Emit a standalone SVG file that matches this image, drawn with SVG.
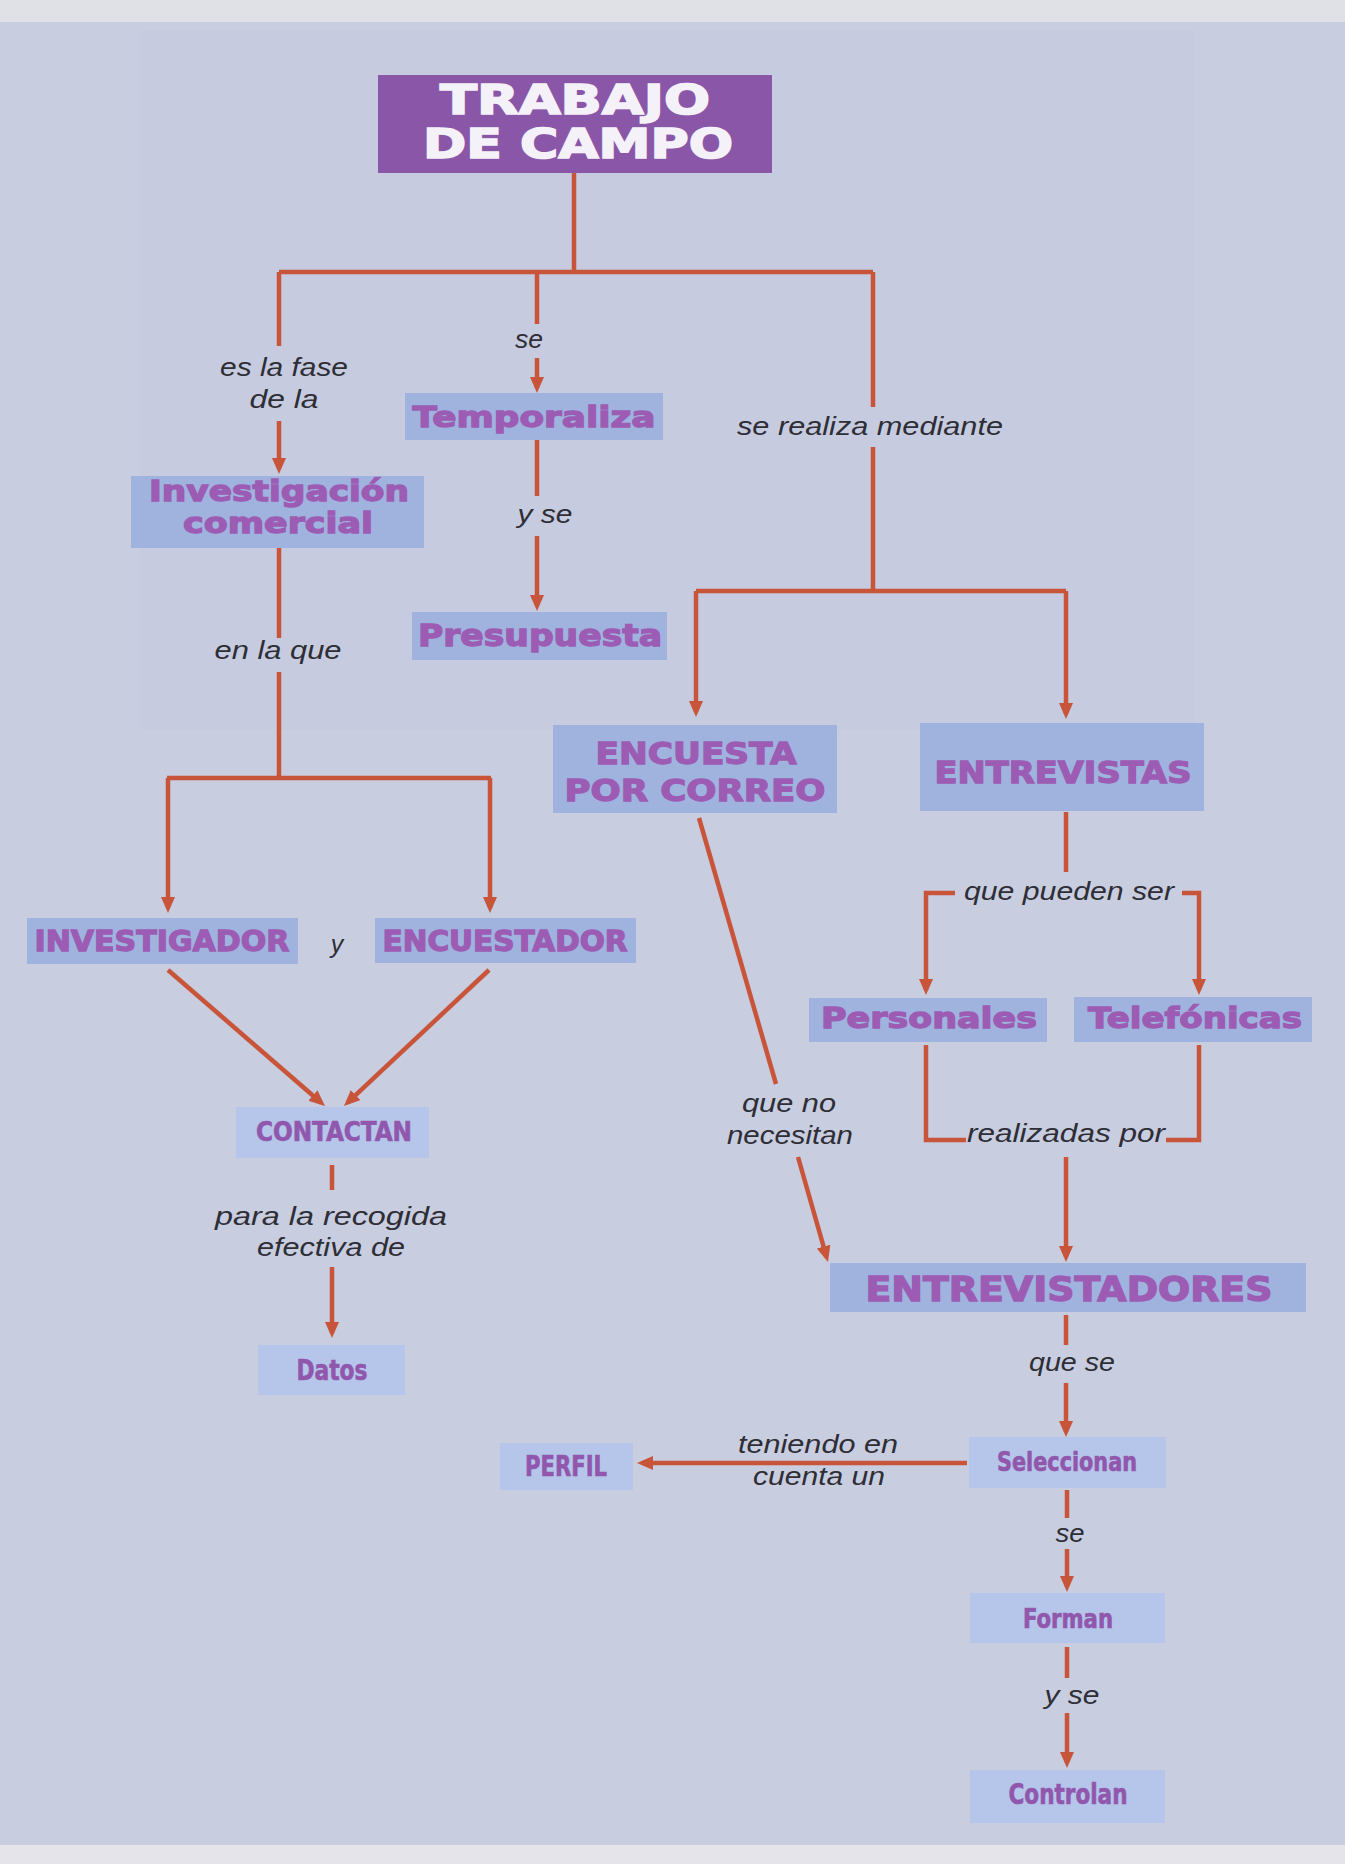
<svg xmlns="http://www.w3.org/2000/svg" width="1345" height="1864" viewBox="0 0 1345 1864">
  <style>
    .box { fill: #9fb3de; }
    .soft { fill: #b6c6ea; }
    .title { fill: #8a56a8; }
    .bt { font-family: "DejaVu Sans", "Liberation Sans", sans-serif; font-weight: bold; fill: #9c5cb4; stroke: #9c5cb4; stroke-width: 1.3; text-anchor: middle; }
    .ct { font-family: "DejaVu Sans Condensed", "DejaVu Sans", "Liberation Sans Narrow", sans-serif; font-weight: bold; fill: #9057ad; stroke: #9057ad; stroke-width: 0.6; text-anchor: middle; }
    .tt { font-family: "DejaVu Sans", "Liberation Sans", sans-serif; font-weight: bold; fill: #f4f2f8; stroke: #f4f2f8; stroke-width: 1.6; text-anchor: middle; }
    .lbl { font-family: "Liberation Sans", "DejaVu Sans", sans-serif; font-style: italic; fill: #2e2e36; font-size: 25px; text-anchor: middle; }
    .ln { fill: none; stroke: #c8553a; stroke-width: 4.5; stroke-linejoin: miter; }
    .ar { marker-end: url(#head); }
  </style>
  <defs>
    <marker id="head" markerUnits="userSpaceOnUse" markerWidth="16" markerHeight="14" viewBox="0 0 16 14" refX="11" refY="7" orient="auto">
      <path d="M0,0 L16,7 L0,14 Z" fill="#c8553a"/>
    </marker>
  </defs>

  <!-- page background -->
  <rect x="0" y="0" width="1345" height="1864" fill="#c8cde0"/>
  <rect x="0" y="0" width="1345" height="22" fill="#e0e0e7"/>
  <rect x="140" y="30" width="1055" height="700" fill="#c3c8dc" opacity="0.35"/>
  <rect x="0" y="1845" width="1345" height="19" fill="#e4e4ea"/>

  <!-- connectors -->
  <g id="connectors">
    <path class="ln" d="M574,173 V272"/>
    <path class="ln" d="M279,272 H873"/>
    <path class="ln" d="M279,272 V346"/>
    <path class="ln ar" d="M279,421 V469"/>
    <path class="ln" d="M537,272 V324"/>
    <path class="ln ar" d="M537,358 V388"/>
    <path class="ln" d="M873,272 V407"/>
    <path class="ln" d="M873,447 V591"/>
    <path class="ln" d="M696,591 H1066"/>
    <path class="ln ar" d="M696,591 V712"/>
    <path class="ln ar" d="M1066,591 V714"/>
    <path class="ln" d="M537,440 V496"/>
    <path class="ln ar" d="M537,536 V606"/>
    <path class="ln" d="M279,548 V638"/>
    <path class="ln" d="M279,672 V778"/>
    <path class="ln" d="M167,778 H491"/>
    <path class="ln ar" d="M168,778 V908"/>
    <path class="ln ar" d="M490,778 V908"/>
    <path class="ln ar" d="M168,970 L321.2,1102.7"/>
    <path class="ln ar" d="M489,970 L347.6,1102.6"/>
    <path class="ln" d="M332,1165 V1190"/>
    <path class="ln ar" d="M332,1267 V1333"/>
    <path class="ln" d="M699,818 L776,1084"/>
    <path class="ln ar" d="M798,1157 L826.6,1257.2"/>
    <path class="ln" d="M1066,812 V872"/>
    <path class="ln ar" d="M955,893 H926 V990"/>
    <path class="ln ar" d="M1182,893 H1199 V990"/>
    <path class="ln" d="M926,1045 V1140 H966"/>
    <path class="ln" d="M1199,1045 V1140 H1166"/>
    <path class="ln ar" d="M1066,1157 V1257"/>
    <path class="ln" d="M1066,1315 V1345"/>
    <path class="ln ar" d="M1066,1383 V1432"/>
    <path class="ln ar" d="M967,1463 H642"/>
    <path class="ln" d="M1067,1490 V1518"/>
    <path class="ln ar" d="M1067,1549 V1587"/>
    <path class="ln" d="M1067,1647 V1678"/>
    <path class="ln ar" d="M1067,1713 V1763"/>
  </g>

  <!-- connector labels -->
  <g id="labels">
    <text class="lbl" x="284" y="376" textLength="128" lengthAdjust="spacingAndGlyphs">es la fase</text>
    <text class="lbl" x="284" y="408" textLength="69" lengthAdjust="spacingAndGlyphs">de la</text>
    <text class="lbl" x="529" y="348" textLength="28" lengthAdjust="spacingAndGlyphs">se</text>
    <text class="lbl" x="870" y="435" textLength="266" lengthAdjust="spacingAndGlyphs">se realiza mediante</text>
    <text class="lbl" x="545" y="523" textLength="55" lengthAdjust="spacingAndGlyphs">y se</text>
    <text class="lbl" x="278" y="659" textLength="127" lengthAdjust="spacingAndGlyphs">en la que</text>
    <text class="lbl" x="337" y="953">y</text>
    <text class="lbl" x="331" y="1225" textLength="232" lengthAdjust="spacingAndGlyphs">para la recogida</text>
    <text class="lbl" x="331" y="1256" textLength="148" lengthAdjust="spacingAndGlyphs">efectiva de</text>
    <text class="lbl" x="789" y="1112" textLength="94" lengthAdjust="spacingAndGlyphs">que no</text>
    <text class="lbl" x="790" y="1144" textLength="126" lengthAdjust="spacingAndGlyphs">necesitan</text>
    <text class="lbl" x="1069" y="900" textLength="210" lengthAdjust="spacingAndGlyphs">que pueden ser</text>
    <text class="lbl" x="1066" y="1142" textLength="198" lengthAdjust="spacingAndGlyphs">realizadas por</text>
    <text class="lbl" x="1072" y="1371" textLength="86" lengthAdjust="spacingAndGlyphs">que se</text>
    <text class="lbl" x="818" y="1453" textLength="160" lengthAdjust="spacingAndGlyphs">teniendo en</text>
    <text class="lbl" x="819" y="1485" textLength="132" lengthAdjust="spacingAndGlyphs">cuenta un</text>
    <text class="lbl" x="1070" y="1542" textLength="29" lengthAdjust="spacingAndGlyphs">se</text>
    <text class="lbl" x="1072" y="1704" textLength="55" lengthAdjust="spacingAndGlyphs">y se</text>
  </g>

  <!-- nodes -->
  <g id="trabajo-de-campo">
    <rect class="title" x="378" y="75" width="394" height="98"/>
    <text class="tt" x="575" y="114" font-size="40" textLength="270" lengthAdjust="spacingAndGlyphs">TRABAJO</text>
    <text class="tt" x="578" y="158" font-size="40" textLength="310" lengthAdjust="spacingAndGlyphs">DE CAMPO</text>
  </g>
  <g id="investigacion-comercial">
    <rect class="box" x="131" y="476" width="293" height="72"/>
    <text class="bt" x="279" y="501" font-size="28" textLength="260" lengthAdjust="spacingAndGlyphs">Investigación</text>
    <text class="bt" x="278" y="533" font-size="28" textLength="190" lengthAdjust="spacingAndGlyphs">comercial</text>
  </g>
  <g id="temporaliza">
    <rect class="box" x="405" y="393" width="258" height="47"/>
    <text class="bt" x="534" y="427" font-size="29" textLength="243" lengthAdjust="spacingAndGlyphs">Temporaliza</text>
  </g>
  <g id="presupuesta">
    <rect class="box" x="412" y="612" width="255" height="48"/>
    <text class="bt" x="540" y="646" font-size="30" textLength="244" lengthAdjust="spacingAndGlyphs">Presupuesta</text>
  </g>
  <g id="encuesta-por-correo">
    <rect class="box" x="553" y="725" width="284" height="88"/>
    <text class="bt" x="696" y="764" font-size="31" textLength="201" lengthAdjust="spacingAndGlyphs">ENCUESTA</text>
    <text class="bt" x="695" y="801" font-size="31" textLength="261" lengthAdjust="spacingAndGlyphs">POR CORREO</text>
  </g>
  <g id="entrevistas">
    <rect class="box" x="920" y="723" width="284" height="88"/>
    <text class="bt" x="1063" y="783" font-size="31" textLength="257" lengthAdjust="spacingAndGlyphs">ENTREVISTAS</text>
  </g>
  <g id="investigador">
    <rect class="box" x="27" y="918" width="271" height="46"/>
    <text class="bt" x="162" y="951" font-size="29" textLength="255" lengthAdjust="spacingAndGlyphs">INVESTIGADOR</text>
  </g>
  <g id="encuestador">
    <rect class="box" x="375" y="918" width="261" height="45"/>
    <text class="bt" x="505" y="951" font-size="29" textLength="245" lengthAdjust="spacingAndGlyphs">ENCUESTADOR</text>
  </g>
  <g id="contactan">
    <rect class="soft" x="236" y="1107" width="193" height="51"/>
    <text class="ct" x="334" y="1141" font-size="26" textLength="156" lengthAdjust="spacingAndGlyphs">CONTACTAN</text>
  </g>
  <g id="datos">
    <rect class="soft" x="258" y="1345" width="147" height="50"/>
    <text class="ct" x="332" y="1380" font-size="28" textLength="71" lengthAdjust="spacingAndGlyphs">Datos</text>
  </g>
  <g id="personales">
    <rect class="box" x="809" y="998" width="238" height="44"/>
    <text class="bt" x="929" y="1028" font-size="29" textLength="216" lengthAdjust="spacingAndGlyphs">Personales</text>
  </g>
  <g id="telefonicas">
    <rect class="box" x="1074" y="997" width="238" height="45"/>
    <text class="bt" x="1195" y="1028" font-size="29" textLength="214" lengthAdjust="spacingAndGlyphs">Telefónicas</text>
  </g>
  <g id="entrevistadores">
    <rect class="box" x="830" y="1263" width="476" height="49"/>
    <text class="bt" x="1069" y="1301" font-size="33" textLength="407" lengthAdjust="spacingAndGlyphs">ENTREVISTADORES</text>
  </g>
  <g id="seleccionan">
    <rect class="soft" x="969" y="1437" width="197" height="51"/>
    <text class="ct" x="1067" y="1471" font-size="26" textLength="140" lengthAdjust="spacingAndGlyphs">Seleccionan</text>
  </g>
  <g id="perfil">
    <rect class="soft" x="500" y="1443" width="133" height="47"/>
    <text class="ct" x="566" y="1476" font-size="28" textLength="82" lengthAdjust="spacingAndGlyphs">PERFIL</text>
  </g>
  <g id="forman">
    <rect class="soft" x="970" y="1593" width="195" height="50"/>
    <text class="ct" x="1068" y="1628" font-size="26" textLength="90" lengthAdjust="spacingAndGlyphs">Forman</text>
  </g>
  <g id="controlan">
    <rect class="soft" x="970" y="1770" width="195" height="53"/>
    <text class="ct" x="1068" y="1804" font-size="28" textLength="119" lengthAdjust="spacingAndGlyphs">Controlan</text>
  </g>
</svg>
